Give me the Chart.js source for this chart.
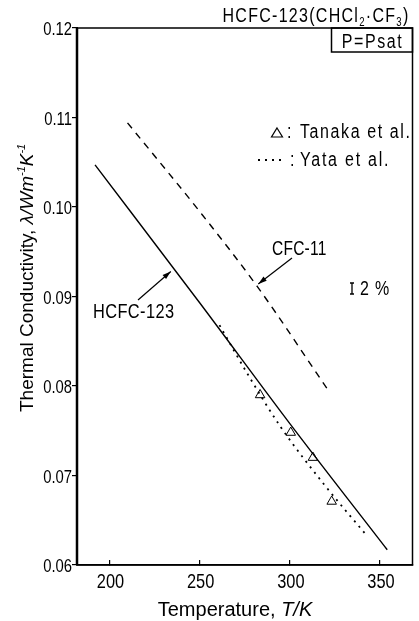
<!DOCTYPE html>
<html>
<head>
<meta charset="utf-8">
<script src="https://cdn.jsdelivr.net/npm/chart.js@4.4.1/dist/chart.umd.min.js"></script>
<style>
  html, body { margin: 0; padding: 0; background: #fff; }
</style>
</head>
<body>
<canvas id="chart" width="419" height="621"></canvas>
<script>
// data
const hcfcTemp = [192, 250, 300, 354];
const hcfcLambda = [0.1047, 0.0893, 0.0758, 0.0617];
const cfcTemp = [210, 250, 282, 322];
const cfcLambda = [0.1094, 0.0995, 0.0911, 0.0793];
const yataTemp = [261, 277, 295, 319, 343];
const yataLambda = [0.0868, 0.0812, 0.0754, 0.0690, 0.0632];
const tanakaTemp = [283.5, 300.5, 312.8, 323.2];
const tanakaLambda = [0.0790, 0.0748, 0.0720, 0.0671];
const xTicks = [200, 250, 300, 350];
const yTicks = [0.06, 0.07, 0.08, 0.09, 0.10, 0.11, 0.12];

const SANS = "'Liberation Sans', Arial, sans-serif";

const pts = (xs, ys) => xs.map((x, i) => ({ x: x, y: ys[i] }));

// condensed text: regular face squeezed sideways (no narrow face installed)
function narrow(ctx, text, x, y, align, size, spacing, squeeze) {
    ctx.save();
    ctx.translate(x, y);
    ctx.scale(squeeze || 0.8, 1);
    ctx.font = size + 'px ' + SANS;
    ctx.letterSpacing = (spacing || 0) + 'px';
    ctx.textAlign = align;
    ctx.textBaseline = 'alphabetic';
    ctx.fillText(text, 0, 0);
    ctx.restore();
}

// text made of pieces (italic / sub / sup), optionally squeezed
function drawRich(ctx, segs, x, y, align, size, spacing, squeeze) {
    squeeze = squeeze || 1;
    const fontFor = s => (s.it ? 'italic ' : '') + Math.round(s.sub || s.sup ? size * 0.58 : size) + 'px ' + SANS;
    ctx.save();
    ctx.letterSpacing = (spacing || 0) + 'px';
    ctx.textAlign = 'left';
    ctx.textBaseline = 'alphabetic';
    let total = 0;
    segs.forEach(s => { ctx.font = fontFor(s); total += ctx.measureText(s.t).width; });
    total *= squeeze;
    let cx = align === 'right' ? x - total : align === 'center' ? x - total / 2 : x;
    ctx.translate(cx, y);
    ctx.scale(squeeze, 1);
    let px = 0;
    segs.forEach(s => {
        ctx.font = fontFor(s);
        const dy = s.sub ? size * 0.22 : s.sup ? -size * 0.42 : 0;
        ctx.fillText(s.t, px, dy);
        px += ctx.measureText(s.t).width;
    });
    ctx.restore();
}

function arrow(ctx, x1, y1, x2, y2) {
    const a = Math.atan2(y2 - y1, x2 - x1);
    ctx.beginPath();
    ctx.moveTo(x1, y1);
    ctx.lineTo(x2, y2);
    ctx.stroke();
    ctx.beginPath();
    ctx.moveTo(x2, y2);
    ctx.lineTo(x2 - 9 * Math.cos(a - 0.3), y2 - 9 * Math.sin(a - 0.3));
    ctx.lineTo(x2 - 9 * Math.cos(a + 0.3), y2 - 9 * Math.sin(a + 0.3));
    ctx.closePath();
    ctx.fill();
}

const annotations = {
    id: 'annotations',
    beforeDraw(chart) {
        const ctx = chart.ctx;
        ctx.save();
        ctx.fillStyle = '#fff';
        ctx.fillRect(0, 0, chart.width, chart.height);
        ctx.restore();
    },
    afterDraw(chart) {
        const ctx = chart.ctx;
        const a = chart.chartArea;
        const xs = chart.scales.x, ys = chart.scales.y;
        ctx.save();
        ctx.strokeStyle = '#000';
        ctx.fillStyle = '#000';

        // frame
        ctx.lineWidth = 1.5;
        ctx.strokeRect(a.left, a.top, a.right - a.left, a.bottom - a.top);
        ctx.lineWidth = 2.5;
        ctx.beginPath();
        ctx.moveTo(a.left, a.top);
        ctx.lineTo(a.left, a.bottom);
        ctx.stroke();

        // tick labels, condensed like the original lettering
        ys.ticks.forEach(t => {
            narrow(ctx, t.value.toFixed(2), a.left - 5, ys.getPixelForValue(t.value) + 7, 'right', 19, 0, 0.78);
        });
        xs.ticks.forEach(t => {
            narrow(ctx, String(t.value), xs.getPixelForValue(t.value) + 1, 588, 'center', 21, 0, 0.78);
        });

        // title and P=Psat box
        drawRich(ctx, [{ t: 'HCFC-123(CHCl' }, { t: '2', sub: 1 }, { t: '·CF' }, { t: '3', sub: 1 }, { t: ')' }],
            a.right - 3, 22, 'right', 20, 1.6, 0.8);
        ctx.lineWidth = 1.5;
        ctx.strokeRect(a.right - 81, a.top, 81, 24);
        narrow(ctx, 'P=Psat', a.right - 40, a.top + 20, 'center', 20, 2, 0.8);

        // legend
        const tri = chart.data.datasets[3];
        const yata = chart.data.datasets[2];
        ctx.lineWidth = 1.2;
        ctx.beginPath();
        ctx.moveTo(277, 128);
        ctx.lineTo(282.5, 137);
        ctx.lineTo(271.5, 137);
        ctx.closePath();
        ctx.stroke();
        narrow(ctx, ':', 287, 138, 'left', 20, 0, 0.8);
        narrow(ctx, tri.label, 300, 138, 'left', 20, 2, 0.8);
        ctx.setLineDash(yata.borderDash);
        ctx.lineWidth = yata.borderWidth;
        ctx.beginPath();
        ctx.moveTo(258, 160);
        ctx.lineTo(286, 160);
        ctx.stroke();
        ctx.setLineDash([]);
        narrow(ctx, ':', 290, 166, 'left', 20, 0, 0.8);
        narrow(ctx, yata.label, 300, 166, 'left', 20, 2.2, 0.8);

        // curve labels with arrows
        narrow(ctx, 'HCFC-123', 93, 318, 'left', 21, 0.5, 0.78);
        narrow(ctx, 'CFC-11', 272, 255, 'left', 21, 0.3, 0.74);
        ctx.lineWidth = 1.2;
        arrow(ctx, 138, 300, xs.getPixelForValue(234), ys.getPixelForValue(0.0928));
        arrow(ctx, 292, 258, xs.getPixelForValue(282.5), ys.getPixelForValue(0.0914));

        // uncertainty mark
        ctx.lineWidth = 1.3;
        ctx.beginPath();
        ctx.moveTo(352, 283); ctx.lineTo(352, 294);
        ctx.moveTo(350, 283); ctx.lineTo(354, 283);
        ctx.moveTo(350, 294); ctx.lineTo(354, 294);
        ctx.stroke();
        narrow(ctx, '2 %', 360, 295, 'left', 20, 1, 0.8);

        // axis titles
        drawRich(ctx, [{ t: 'Temperature, ' }, { t: 'T/K', it: 1 }], 235, 616, 'center', 20, 0, 1);
        ctx.translate(33, 412);
        ctx.rotate(-Math.PI / 2);
        drawRich(ctx, [{ t: 'Thermal Conductivity, ' }, { t: 'λ/Wm', it: 1 }, { t: '-1', sup: 1, it: 1 },
            { t: 'K', it: 1 }, { t: '-1', sup: 1, it: 1 }], 0, 0, 'left', 19, 0, 1);
        ctx.restore();
    }
};

new Chart(document.getElementById('chart'), {
    type: 'scatter',
    data: {
        datasets: [
            {
                label: 'HCFC-123',
                data: pts(hcfcTemp, hcfcLambda),
                showLine: true,
                borderColor: '#000',
                borderWidth: 1.4,
                pointRadius: 0,
                cubicInterpolationMode: 'monotone'
            },
            {
                label: 'CFC-11',
                data: pts(cfcTemp, cfcLambda),
                showLine: true,
                borderColor: '#000',
                borderWidth: 1.4,
                borderDash: [7, 6],
                pointRadius: 0,
                cubicInterpolationMode: 'monotone'
            },
            {
                label: 'Yata et al.',
                data: pts(yataTemp, yataLambda),
                showLine: true,
                borderColor: '#000',
                borderWidth: 1.8,
                borderDash: [2, 5],
                pointRadius: 0,
                cubicInterpolationMode: 'monotone'
            },
            {
                label: 'Tanaka et al.',
                data: pts(tanakaTemp, tanakaLambda),
                showLine: false,
                pointStyle: 'triangle',
                pointRadius: 5.5,
                borderColor: '#000',
                borderWidth: 1,
                backgroundColor: '#fff'
            }
        ]
    },
    options: {
        responsive: false,
        animation: false,
        events: [],
        layout: { padding: { top: 28, right: 3, left: 0, bottom: 0 } },
        plugins: { legend: { display: false }, tooltip: { enabled: false } },
        scales: {
            x: {
                type: 'linear',
                min: 182,
                max: 368,
                afterBuildTicks: s => { s.ticks = xTicks.map(v => ({ value: v })); },
                afterFit: s => { s.height = 56; },
                grid: { drawOnChartArea: false, tickLength: -5, color: '#000', lineWidth: 1.2 },
                border: { color: '#000', width: 1.5 },
                ticks: { display: false }
            },
            y: {
                type: 'linear',
                min: 0.06,
                max: 0.12,
                afterBuildTicks: s => { s.ticks = yTicks.map(v => ({ value: v })); },
                afterFit: s => { s.width = 77; },
                grid: { drawOnChartArea: false, tickLength: 5, color: '#000', lineWidth: 1.2 },
                border: { color: '#000', width: 2 },
                ticks: { display: false }
            }
        }
    },
    plugins: [annotations]
});
</script>
</body>
</html>
